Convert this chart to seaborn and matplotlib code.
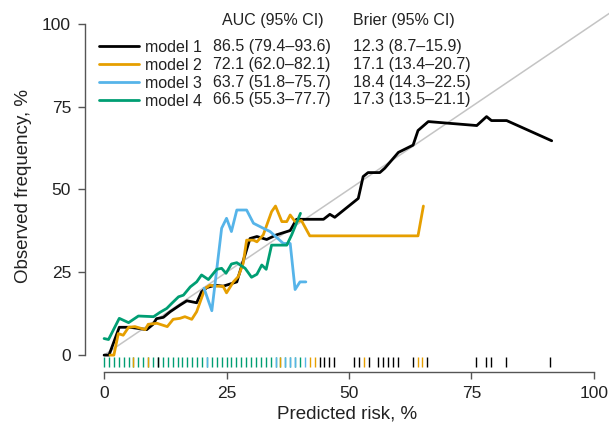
import numpy as np
import pandas as pd
import seaborn as sns
import matplotlib
matplotlib.use("Agg")
import matplotlib.pyplot as plt
from matplotlib.lines import Line2D

# ---------------- data ----------------
models = ["model 1", "model 2", "model 3", "model 4"]
colors = ["#000000", "#E69F00", "#56B4E9", "#009E73"]
auc_text = ["86.5 (79.4\u201393.6)", "72.1 (62.0\u201382.1)", "63.7 (51.8\u201375.7)", "66.5 (55.3\u201377.7)"]
brier_text = ["12.3 (8.7\u201315.9)", "17.1 (13.4\u201320.7)", "18.4 (14.3\u201322.5)", "17.3 (13.5\u201321.1)"]

m1_x = [0, 1, 3.1, 5.3, 8.7, 10, 10.7, 12.1, 13.5, 15.5, 16.9, 18.9, 19.9, 21, 22.7, 24.3, 27.1,
        29.8, 31.2, 33.2, 35.2, 38, 39.3, 44.8, 46.1, 47.1, 51.9, 52.9, 53.9, 56.3, 57.3, 60.1,
        63.1, 64.1, 66.2, 76.1, 78.1, 79.1, 82.2, 91.4]
m1_y = [0, 0, 8.4, 8.4, 7.7, 9.3, 11, 11.4, 13.1, 15.1, 16.4, 15.8, 19.1, 20.4, 21.1, 20.8, 22.1,
        35.2, 35.8, 34.9, 36.3, 37.6, 41, 41, 42.5, 41.6, 47.3, 53.9, 55.1, 55.1, 56.4, 61.2,
        63.4, 67.8, 70.5, 69.3, 72, 70.8, 70.8, 64.7]

m2_x = [1.2, 2, 2.9, 3.9, 5, 6.3, 8.4, 9, 10.8, 12.9, 14.1, 15.5, 16.5, 17.9, 18.9, 20.6, 21.6,
        23, 24.3, 25, 26.4, 27.4, 28.4, 29.1, 30.5, 31.2, 32.5, 34.2, 35, 36.3, 37.3, 38, 39,
        40.3, 42, 64.1, 65.2]
m2_y = [0, 0, 6.5, 6, 8.4, 8.6, 7.7, 9.3, 9.6, 8.6, 10.8, 11.1, 11.6, 10.8, 13.1, 20.1, 21.1,
        20.8, 20.8, 18.8, 22.1, 23.7, 27.7, 34.7, 34.7, 34.2, 36.3, 43.3, 45, 40.3, 40.3, 42.3,
        40.3, 40.6, 36, 36, 45]

m3_x = [20.4, 22, 24, 25, 26, 27.1, 29.1, 30.5, 32.5, 33.9, 36.6, 38, 39, 40, 41.2]
m3_y = [20.2, 13.4, 38.3, 41.3, 37.3, 43.8, 43.8, 39.8, 38.3, 37.3, 33.7, 33.7, 19.8, 22.1, 22.1]

m4_x = [0, 0.9, 3.1, 5, 7, 10.1, 11.4, 12.8, 13.8, 15.2, 16.2, 17.6, 18.9, 19.9, 21.3, 23, 24,
        24.9, 26, 27.1, 28.8, 30.1, 31.2, 32.2, 33.1, 34.2, 37.3, 38.3, 40.1]
m4_y = [5, 4.7, 11.1, 9.8, 11.8, 11.6, 12.9, 14.1, 15.6, 17.6, 18.1, 20.6, 22.1, 24.2, 22.8, 25.9,
        26.2, 24.7, 27.5, 27.9, 26.2, 23.5, 24.4, 27.2, 25.9, 33.2, 33.2, 36.3, 42.8]

rug_m4 = list(range(0, 41))
rug_m3 = [21, 35, 37, 38, 39, 41]
rug_m2 = [6, 9, 36, 42, 43, 53, 64, 65]
rug_m1 = [11, 44, 45, 46, 47, 51, 52, 54, 56, 57, 58, 59, 60, 63, 66, 76, 78, 79, 82, 91]

ticks = [0, 25, 50, 75, 100]

# ---------------- figure ----------------
sns.set_theme(style="white")
plt.rcParams["font.family"] = ["Liberation Sans", "DejaVu Sans"]

W, H = 609, 426
fig = plt.figure(figsize=(W / 100, H / 100), dpi=100)
ax = fig.add_axes([85 / W, (H - 372) / H, 1 - 85 / W, 372 / H])
ax.set_xlim(-3.9, 103.1)
ax.set_ylim(-5.1, 107.2)

# reference diagonal (starts at the origin, runs to the plot edge)
ax.plot([0, 120], [0, 120], color="#c4c4c4", lw=1.1, zorder=1)

df = pd.concat([
    pd.DataFrame({"pred": m1_x, "obs": m1_y, "model": models[0]}),
    pd.DataFrame({"pred": m2_x, "obs": m2_y, "model": models[1]}),
    pd.DataFrame({"pred": m3_x, "obs": m3_y, "model": models[2]}),
    pd.DataFrame({"pred": m4_x, "obs": m4_y, "model": models[3]}),
])
sns.lineplot(data=df, x="pred", y="obs", hue="model", palette=dict(zip(models, colors)),
             estimator=None, sort=False, lw=2.0, legend=False, ax=ax, zorder=3)

# rug
for vals, c in [(rug_m4, colors[3]), (rug_m3, colors[2]), (rug_m2, colors[1]), (rug_m1, colors[0])]:
    ax.vlines(vals, -3.6, -0.6, color=c, lw=1.0, zorder=2)

# axes styling (R-like)
for s in ["top", "right"]:
    ax.spines[s].set_visible(False)
for s in ["left", "bottom"]:
    ax.spines[s].set_color("#555555")
    ax.spines[s].set_linewidth(1.0)
    ax.spines[s].set_bounds(0, 100)
ax.set_xticks(ticks)
ax.set_yticks(ticks)
ax.tick_params(axis="both", direction="out", length=5, width=1.0, color="#555555",
               labelsize=12.5, labelcolor="#222222", left=True, bottom=True, pad=5)
ax.set_xlabel("Predicted risk, %", fontsize=13.5, color="#222222", labelpad=3)
ax.set_ylabel("Observed frequency, %", fontsize=13.5, color="#222222", labelpad=7)
ax.grid(False)

# legend
fs = 11.5
handles = [Line2D([0], [0], color=c, lw=2.0) for c in colors]
leg = ax.legend(handles, models, loc="upper left", bbox_to_anchor=(99 / W, 1 - 39.5 / H),
                bbox_transform=fig.transFigure, frameon=False, fontsize=fs,
                handlelength=2.5, handletextpad=0.37, labelspacing=0.2, borderpad=0,
                borderaxespad=0)
for t in leg.get_texts():
    t.set_color("#222222")

fig.text(222 / W, 1 - 20 / H, "AUC (95% CI)", fontsize=fs, color="#222222", va="center", ha="left")
fig.text(353 / W, 1 - 20 / H, "Brier (95% CI)", fontsize=fs, color="#222222", va="center", ha="left")
row_y = [47, 64.5, 82, 99.5]
for i in range(4):
    fig.text(213 / W, 1 - row_y[i] / H, auc_text[i], fontsize=fs, color="#222222", va="center", ha="left")
    fig.text(353 / W, 1 - row_y[i] / H, brier_text[i], fontsize=fs, color="#222222", va="center", ha="left")

fig.savefig("out.png", dpi=100)
